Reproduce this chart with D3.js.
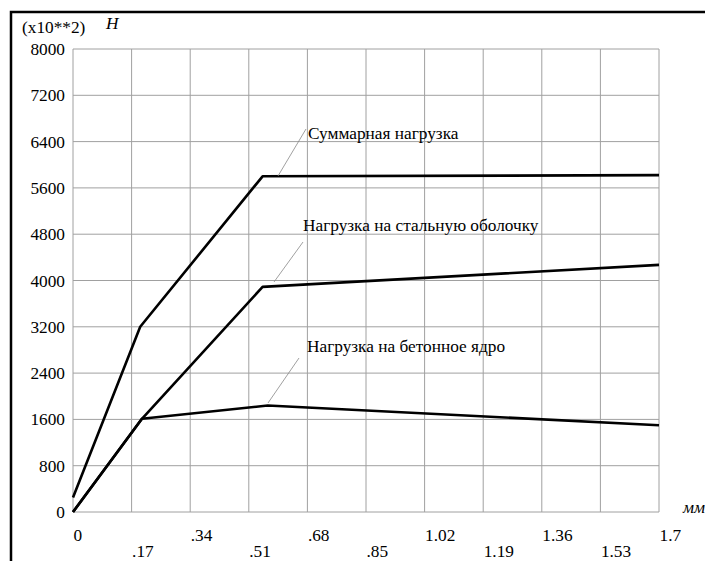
<!DOCTYPE html>
<html>
<head>
<meta charset="utf-8">
<script src="https://cdn.jsdelivr.net/npm/d3@7"></script>
<style>
  body { margin: 0; background: #fff; }
</style>
</head>
<body>
<div id="chart"></div>
<script>
// data
var xTicks = [0, .17, .34, .51, .68, .85, 1.02, 1.19, 1.36, 1.53, 1.7];
var xTickLabels = ["0", ".17", ".34", ".51", ".68", ".85", "1.02", "1.19", "1.36", "1.53", "1.7"];
var yTicks = [0, 800, 1600, 2400, 3200, 4000, 4800, 5600, 6400, 7200, 8000];

var totalX = [0, 0.195, 0.55, 1.7];
var totalY = [250, 3200, 5800, 5820];
var steelX = [0, 0.2, 0.55, 1.7];
var steelY = [0, 1610, 3890, 4270];
var concreteX = [0, 0.2, 0.565, 1.7];
var concreteY = [0, 1610, 1840, 1500];

var labels = ["Суммарная нагрузка", "Нагрузка на стальную оболочку", "Нагрузка на бетонное ядро"];

var svgWidth = 705, svgHeight = 561;
var margin = {top: 49, right: 46, bottom: 49, left: 73};
var chartWidth = svgWidth - margin.left - margin.right;
var chartHeight = svgHeight - margin.top - margin.bottom;
var font = '"Liberation Serif", "Times New Roman", serif';
var fs = '17.3px';

var xScale = d3.scaleLinear().domain([0, 1.7]).range([0, chartWidth]);
var yScale = d3.scaleLinear().domain([0, 8000]).range([chartHeight, 0]);

var svg = d3.select('#chart').append('svg')
    .attr('width', svgWidth)
    .attr('height', svgHeight)
    .attr('font-family', font)
    .style('font-family', font);

// outer frame (top and left only)
svg.append('path')
    .attr('d', 'M11,561 V12 H705')
    .attr('fill', 'none')
    .attr('stroke', '#000')
    .attr('stroke-width', 2.5);

var chartGroup = svg.append('g')
    .attr('transform', `translate(${margin.left}, ${margin.top})`);

// grid
chartGroup.selectAll('.vgrid').data(xTicks).enter().append('line')
    .attr('x1', d => xScale(d)).attr('x2', d => xScale(d))
    .attr('y1', 0).attr('y2', chartHeight)
    .attr('stroke', '#a0a0a0').attr('stroke-width', 1);

chartGroup.selectAll('.hgrid').data(yTicks).enter().append('line')
    .attr('y1', d => yScale(d)).attr('y2', d => yScale(d))
    .attr('x1', 0).attr('x2', chartWidth)
    .attr('stroke', '#a0a0a0').attr('stroke-width', 1);

// y tick labels
chartGroup.selectAll('.ylab').data(yTicks).enter().append('text')
    .attr('x', -8)
    .attr('y', d => yScale(d) + 6)
    .attr('text-anchor', 'end')
    .attr('font-size', fs)
    .text(d => d);

// x tick labels, staggered in two rows
chartGroup.selectAll('.xlab').data(xTicks).enter().append('text')
    .attr('x', d => xScale(d) + 0.5)
    .attr('y', (d, i) => chartHeight + (i % 2 === 0 ? 29 : 45))
    .attr('font-size', fs)
    .text((d, i) => xTickLabels[i]);

// axis titles
svg.append('text').attr('x', 22).attr('y', 33).attr('font-size', fs).text('(x10**2)');
svg.append('text').attr('x', 106).attr('y', 29).attr('font-size', fs)
    .attr('font-style', 'italic').text('Н');
svg.append('text').attr('x', 683).attr('y', 513).attr('font-size', fs)
    .attr('font-style', 'italic').text('мм');

// series
var line = d3.line().x(d => xScale(d[0])).y(d => yScale(d[1]));
var series = [
    d3.zip(totalX, totalY),
    d3.zip(steelX, steelY),
    d3.zip(concreteX, concreteY)
];

chartGroup.selectAll('.series').data(series).enter().append('path')
    .attr('d', line)
    .attr('fill', 'none')
    .attr('stroke', '#000')
    .attr('stroke-width', 2.6)
    .attr('stroke-linejoin', 'round');

// annotations with leader lines
var notes = [
    {text: labels[0], tx: 235, ty: 90, x1: 233, y1: 80, x2: 205, y2: 127},
    {text: labels[1], tx: 230, ty: 182, x1: 230, y1: 193, x2: 201, y2: 233},
    {text: labels[2], tx: 234, ty: 303, x1: 226, y1: 309, x2: 195, y2: 354}
];

notes.forEach(function(n) {
    chartGroup.append('line')
        .attr('x1', n.x1).attr('y1', n.y1)
        .attr('x2', n.x2).attr('y2', n.y2)
        .attr('stroke', '#888').attr('stroke-width', 0.8);
    chartGroup.append('text')
        .attr('x', n.tx).attr('y', n.ty)
        .attr('font-size', fs)
        .text(n.text);
});
</script>
</body>
</html>
